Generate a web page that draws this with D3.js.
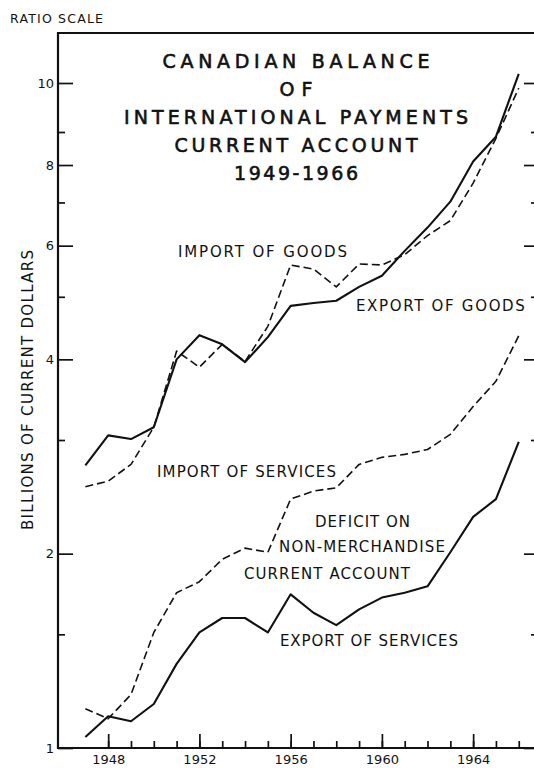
<!DOCTYPE html>
<html>
<head>
<meta charset="utf-8">
<script src="https://cdn.jsdelivr.net/npm/d3@7"></script>
<style>
  body { margin: 0; background: #fff; }
  text { font-family: "DejaVu Sans", sans-serif; fill: #111; }
</style>
</head>
<body>
<div id="chart"></div>
<script>
const width = 534;
const height = 768;
const margin = { top: 33, right: -3, bottom: 20, left: 58 };

// data (billions of current dollars)
const years = [1947, 1948, 1949, 1950, 1951, 1952, 1953, 1954, 1955, 1956,
               1957, 1958, 1959, 1960, 1961, 1962, 1963, 1964, 1965, 1966];
const exportGoods = [2.74, 3.05, 3.01, 3.14, 4.00, 4.36, 4.22, 3.96, 4.33, 4.84,
                     4.89, 4.93, 5.18, 5.39, 5.89, 6.40, 7.02, 8.10, 8.85, 10.2];
const importGoods = [2.54, 2.59, 2.75, 3.14, 4.12, 3.89, 4.22, 3.97, 4.50, 5.60,
                     5.52, 5.18, 5.62, 5.60, 5.81, 6.22, 6.56, 7.50, 8.80, 9.89];
const exportServices = [1.04, 1.12, 1.10, 1.17, 1.35, 1.51, 1.59, 1.59, 1.51, 1.73,
                        1.62, 1.55, 1.64, 1.71, 1.74, 1.78, 2.01, 2.28, 2.43, 2.98];
const importServices = [1.15, 1.11, 1.21, 1.51, 1.74, 1.81, 1.96, 2.04, 2.01, 2.43,
                        2.50, 2.53, 2.75, 2.82, 2.85, 2.90, 3.06, 3.38, 3.70, 4.35];

const majorYTicks = [1, 2, 4, 6, 8, 10];
const minorYTicks = [1.5, 3, 5, 7, 9];
const majorXTicks = [1948, 1952, 1956, 1960, 1964];
const minorXTicks = d3.range(1948, 1967);

const titleLines = ["CANADIAN BALANCE", "OF", "INTERNATIONAL PAYMENTS", "CURRENT ACCOUNT", "1949-1966"];
const titleWidths = [267, 33, 344, 243, 124];

const seriesList = [
  { name: "Export of goods", values: exportGoods, dashed: false },
  { name: "Import of goods", values: importGoods, dashed: true },
  { name: "Export of services", values: exportServices, dashed: false },
  { name: "Import of services", values: importServices, dashed: true },
];

// labels placed in data space: [text, year, value, width]
const labels = [
  ["IMPORT OF GOODS", 1951.06, 5.77, 169],
  ["EXPORT OF GOODS", 1958.86, 4.75, 169],
  ["IMPORT OF SERVICES", 1950.14, 2.63, 179],
  ["DEFICIT ON", 1957.07, 2.20, 95],
  ["NON-MERCHANDISE", 1955.49, 2.01, 166],
  ["CURRENT ACCOUNT", 1953.95, 1.83, 166],
  ["EXPORT OF SERVICES", 1955.53, 1.44, 178],
];

const svg = d3
  .select("#chart")
  .append("svg")
  .attr("width", width)
  .attr("height", height);

const x0 = margin.left;
const x1 = width - margin.right;
const yBottom = height - margin.bottom;

const x = d3.scaleLinear().domain([1945.8, 1966.8]).range([x0, x1]);

// ratio scale; the printed chart stretches the 9-10 step a little
const y = d3.scaleLog().domain([1, 9, 10]).range([yBottom, 132, 83]);

// frame
const frame = [
  [x0, margin.top, x1, margin.top],
  [x0, yBottom, x1, yBottom],
  [x0, margin.top - 1, x0, yBottom + 1],
  [x1, margin.top - 1, x1, yBottom + 1],
];
svg.append("g")
  .selectAll("line")
  .data(frame)
  .enter()
  .append("line")
  .attr("x1", (d) => d[0]).attr("y1", (d) => d[1])
  .attr("x2", (d) => d[2]).attr("y2", (d) => d[3])
  .attr("stroke", "#111").attr("stroke-width", 2.2);

function styleAxis(g) {
  g.select(".domain").remove();
  g.selectAll(".tick line").attr("stroke", "#111").attr("stroke-width", 1.7);
  g.selectAll(".tick text").attr("font-family", "DejaVu Sans").attr("fill", "#111");
}

// left axis
svg.append("g")
  .attr("transform", `translate(${x0},0)`)
  .call(d3.axisLeft(y).tickValues(majorYTicks).tickSizeInner(-15).tickSizeOuter(0)
    .tickPadding(4).tickFormat(d3.format("d")))
  .call(styleAxis)
  .call((g) => g.selectAll(".tick text").attr("font-size", 13));
svg.append("g")
  .attr("transform", `translate(${x0},0)`)
  .call(d3.axisLeft(y).tickValues(minorYTicks).tickSizeInner(-7).tickSizeOuter(0).tickFormat(""))
  .call(styleAxis);

// right axis (ticks only)
svg.append("g")
  .attr("transform", `translate(${x1},0)`)
  .call(d3.axisRight(y).tickValues(majorYTicks).tickSizeInner(-13).tickSizeOuter(0).tickFormat(""))
  .call(styleAxis);
svg.append("g")
  .attr("transform", `translate(${x1},0)`)
  .call(d3.axisRight(y).tickValues(minorYTicks).tickSizeInner(-6).tickSizeOuter(0).tickFormat(""))
  .call(styleAxis);

// bottom axis
svg.append("g")
  .attr("transform", `translate(0,${yBottom})`)
  .call(d3.axisBottom(x).tickValues(minorXTicks).tickSizeInner(-7).tickSizeOuter(0).tickFormat(""))
  .call(styleAxis);
svg.append("g")
  .attr("transform", `translate(0,${yBottom})`)
  .call(d3.axisBottom(x).tickValues(majorXTicks).tickSizeInner(-14).tickSizeOuter(0)
    .tickPadding(7).tickFormat(d3.format("d")))
  .call(styleAxis)
  .call((g) => g.selectAll(".tick text").attr("font-size", 13));

// lines
const line = d3
  .line()
  .x((d, i) => x(years[i]))
  .y((d) => y(d));

seriesList.forEach((s) => {
  svg.append("path")
    .datum(s.values)
    .attr("fill", "none")
    .attr("stroke", "#111")
    .attr("stroke-width", s.dashed ? 1.6 : 2.1)
    .attr("stroke-dasharray", s.dashed ? "8,4" : null)
    .attr("stroke-linejoin", "round")
    .attr("d", line);
});

// title
svg.append("g")
  .selectAll("text")
  .data(titleLines)
  .enter()
  .append("text")
  .attr("x", 296)
  .attr("y", (d, i) => 68 + i * 28)
  .attr("text-anchor", "middle")
  .attr("font-size", 19)
  .attr("stroke", "#111")
  .attr("stroke-width", 0.6)
  .attr("textLength", (d, i) => titleWidths[i])
  .attr("lengthAdjust", "spacing")
  .text((d) => d);

// series labels
svg.append("g")
  .selectAll("text")
  .data(labels)
  .enter()
  .append("text")
  .attr("x", (d) => x(d[1]))
  .attr("y", (d) => y(d[2]))
  .attr("font-size", 15)
  .attr("textLength", (d) => d[3])
  .attr("lengthAdjust", "spacing")
  .text((d) => d[0]);

// axis notes
svg.append("text")
  .attr("x", 10)
  .attr("y", 23)
  .attr("font-size", 12.5)
  .attr("textLength", 93)
  .attr("lengthAdjust", "spacing")
  .text("RATIO SCALE");

svg.append("text")
  .attr("transform", `translate(33,${(250 + 530) / 2}) rotate(-90)`)
  .attr("text-anchor", "middle")
  .attr("font-size", 15)
  .attr("textLength", 280)
  .attr("lengthAdjust", "spacing")
  .text("BILLIONS OF CURRENT DOLLARS");
</script>
</body>
</html>
